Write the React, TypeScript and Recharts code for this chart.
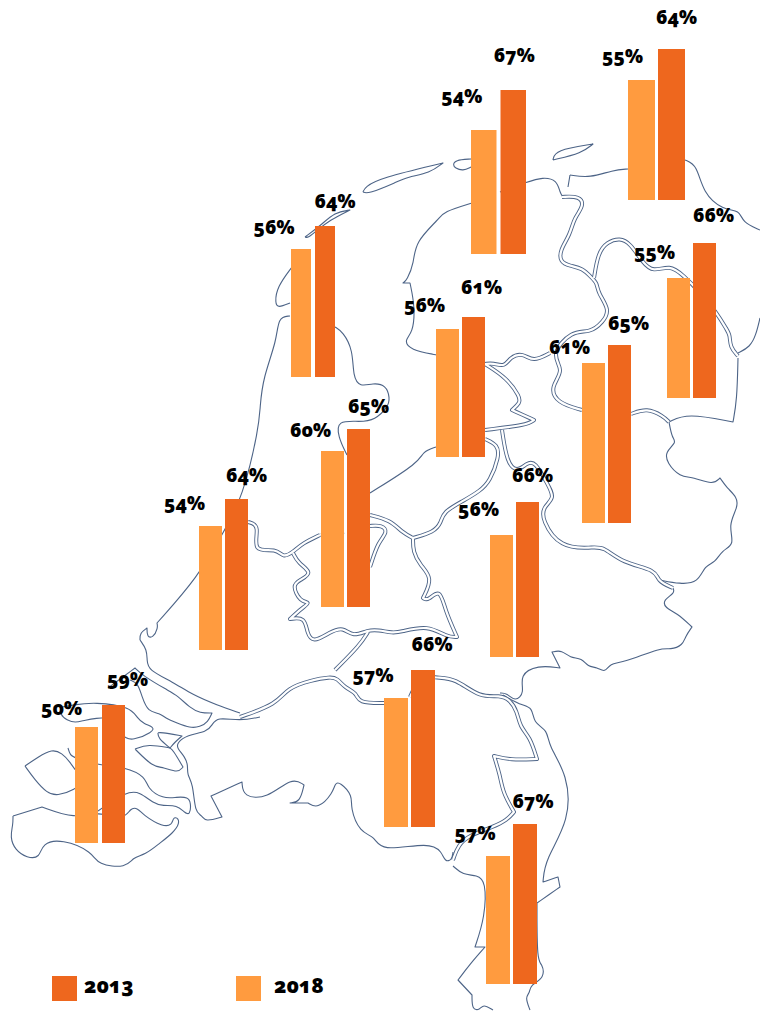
import React from "react";
import { BarChart, Bar, ScatterChart, Scatter, XAxis, YAxis, LabelList } from "recharts";

// ---- values ----
const regions = ["Groningen","Friesland","Drenthe","Overijssel","Flevoland","Noord-Holland","Utrecht","Zuid-Holland","Gelderland","Noord-Brabant","Zeeland","Limburg"];
const values2018 = [55,54,55,61,56,56,60,54,56,57,50,57];
const values2013 = [64,67,66,65,61,64,65,64,66,66,59,67];

// ---- layout of each small chart: left, bottom, bar width, gap, plot height of the 2013 bar, of the 2018 bar ----
const layout = [
  [628,200,27,3,151,120],
  [471,254,25.5,4,164,124],
  [667,398,23,3,155,120],
  [582,523,23,3,178,160],
  [436,457,23,3,140,128],
  [291,377,20,4,151,128],
  [321,607,23,3,178,156],
  [199,650,23,3,151,124],
  [490,657,23,3,155,122],
  [384,827,24,3,157,129],
  [75,843,23,4,138,116],
  [486,984,24,3,160,128],
];
// label centre offset relative to (bar centre, bar top)
const labelOffsets2018 = [[-19,-23],[-22,-33],[-24,-25],[-24,-15],[-23,-23],[-27,-21],[-22,-20],[-26,-22],[-23,-25],[-23,-22],[-25,-18],[-23,-22]];
const labelOffsets2013 = [[5,-31],[1,-34],[9,-27],[9,-21],[8,-29],[10,-24],[10,-22],[10,-23],[5,-26],[9,-25],[14,-25],[8,-22]];

// ---- map outline ----
const thin: number[][][] = [
  [[25,766],[38,757],[52,749],[62,753],[70,762],[75,770],[85,780],[75,790],[57,796],[47,793],[35,780],[25,766]],
  [[62,707],[60,715],[67,720],[75,723],[85,720],[98,718],[102,718]],
  [[62,707],[72,705],[95,702],[131,707],[137,718],[144,724],[154,727],[153,732],[132,741],[125,737]],
  [[68,748],[70,755],[75,758],[98,765],[125,767],[146,777],[147,788],[163,799],[177,797],[188,797],[191,803],[190,815],[185,813],[177,805],[163,806],[153,803],[140,792],[127,791],[98,811]],
  [[108,688],[135,668],[142,675],[167,690],[177,695],[190,708],[200,713],[212,713],[208,722],[200,727],[190,728],[177,723],[165,718],[160,713],[148,712],[142,697],[138,683],[130,680]],
  [[158,733],[160,732],[182,736],[175,742],[170,748],[158,738],[158,733]],
  [[135,749],[148,744],[170,748],[173,750],[183,767],[178,773],[163,767],[153,767],[135,749]],
  [[13,816],[42,807],[75,819],[98,811],[125,820],[130,808],[138,808],[143,815],[163,827],[172,825],[173,818],[177,817],[180,823],[173,833],[160,843],[145,855],[133,857],[127,868],[97,865],[93,852],[62,839],[42,843],[40,858],[27,858],[15,850],[10,837],[13,825],[13,816]],
  [[140,640],[147,650],[147,660],[148,670],[173,682],[193,695],[217,705],[240,713]],
  [[260,717],[240,721],[217,717],[212,725],[207,732],[187,735],[177,743],[177,748],[185,757],[188,765],[187,775],[193,783],[195,813],[202,815],[205,822],[222,817],[211,796],[242,782],[243,797],[267,799],[292,777],[304,785],[300,802],[290,803],[308,803],[318,809],[333,793],[335,783],[340,782],[353,796],[350,807],[360,833],[375,836],[380,852],[430,842],[442,852],[445,862],[452,860],[453,852]],
  [[453,866],[463,875],[477,875],[486,881],[485,917],[475,947],[485,947],[470,964],[458,980],[472,995],[472,1010],[480,1010],[483,1004],[493,1010]],
  [[503,695],[520,705],[533,707],[533,723],[548,730],[548,745],[568,775],[570,820],[545,860],[543,882],[558,877],[560,887],[537,903],[537,962],[542,963],[545,978],[530,985],[530,993],[525,997],[530,1010]],
  [[500,693],[507,693],[515,702],[525,693],[519,675],[538,665],[560,668],[552,652],[562,650],[570,658],[582,658],[588,667],[597,667],[605,673],[610,663],[623,663],[662,647],[670,650],[683,645],[685,637],[692,627],[677,613],[665,608],[663,600],[675,593],[673,588]],
  [[669,422],[687,413],[733,422],[737,400],[738,358]],
  [[669,422],[672,438],[677,442],[665,452],[667,463],[680,477],[693,477],[713,485],[720,478],[727,488],[737,497],[738,507],[728,525],[735,545],[722,550],[715,563],[705,565],[698,583],[680,584],[660,580]],
  [[685,160],[697,165],[703,193],[723,210],[740,210],[742,222],[760,230]],
  [[570,175],[590,178],[613,170],[628,169]],
  [[568,187],[570,175]],
  [[563,197],[560,193],[557,180],[543,177],[527,182],[500,192]],
  [[472,203],[443,212],[440,218],[415,242],[414,263],[407,280],[403,283],[410,283],[415,307],[413,333],[404,340],[410,350],[437,355]],
  [[738,353],[750,347],[756,335],[760,318]],
  [[305,237],[320,226],[335,212],[350,210],[330,220],[315,232],[308,238],[305,237]],
  [[363,192],[365,187],[380,178],[443,163],[430,173],[407,177],[397,182],[368,194],[363,192]],
  [[471,159],[455,160],[453,165],[455,168],[463,171],[471,167]],
  [[553,160],[555,150],[593,144],[582,153],[553,160]],
  [[292,267],[277,287],[275,303],[278,308],[290,303]],
  [[290,316],[278,317],[277,340],[263,378],[260,407],[259,427],[243,497],[223,533],[198,577],[157,623],[158,628],[153,638],[147,637],[147,628],[140,633],[140,640]],
  [[335,327],[343,332],[353,350],[353,377],[360,387],[373,383],[386,385],[390,398],[388,407],[375,420],[360,422],[337,420],[338,437],[347,455]],
  [[370,493],[420,462],[422,452],[436,447]],
];
const rivers: number[][][] = [
  [[240,717],[277,704],[287,688],[312,680],[330,677],[337,678],[345,688],[357,693],[358,703],[384,703]],
  [[410,697],[420,675],[437,678],[455,678],[480,698],[500,695],[510,700],[517,711],[520,727],[530,737],[537,759],[510,760],[494,756],[500,775],[503,793],[514,812],[507,820],[493,827],[470,835],[458,845],[453,860]],
  [[335,670],[360,645],[368,632]],
  [[562,197],[580,196],[584,206],[574,218],[570,235],[560,250],[560,262],[570,266],[582,268],[592,278],[597,283],[598,293],[610,310],[603,322],[590,333],[572,330],[550,355],[565,370],[550,387],[557,403],[582,410]],
  [[631,414],[647,408],[663,416],[669,422]],
  [[594,278],[598,253],[607,242],[620,238],[630,243],[643,263],[653,272],[670,265],[683,275],[700,292],[717,313],[727,330],[730,335],[730,347],[738,356]],
  [[550,353],[533,362],[523,353],[510,357],[505,367],[493,363],[485,364]],
  [[485,364],[507,378],[520,397],[520,403],[512,410],[534,420],[527,425],[485,430]],
  [[673,588],[657,581],[657,570],[622,563],[603,546],[592,548],[560,548],[542,520],[543,507],[555,498],[548,485],[535,461],[527,463],[517,472],[507,463],[502,430]],
  [[485,439],[498,445],[499,457],[490,481],[480,491],[463,501],[443,512],[441,523],[434,532],[413,538],[403,533],[390,520],[370,515]],
  [[413,538],[413,552],[420,565],[433,578],[423,598],[428,601],[440,588],[445,610],[457,637],[447,637],[428,625],[400,632],[393,633],[378,630],[368,630],[353,637],[343,627],[330,632],[313,643],[307,633],[305,617],[290,619],[302,608],[311,602],[300,602],[292,585],[300,580],[313,573],[298,563],[293,553]],
  [[248,522],[260,525],[252,553],[277,548],[283,558],[293,552],[303,543],[320,535]],
  [[370,526],[382,525],[388,532],[378,542],[370,567]],
  [[344,532],[321,535]],
];
// outline points that are sharp corners in the picture
const corners: number[][] = [
  [25,766],[211,796],[242,782],[222,817],[290,803],[308,803],[304,785],[475,947],[485,947],[543,882],[558,877],[560,887],[537,903],
  [552,652],[560,668],[537,759],[494,756],[514,812],[157,623],[403,283],[410,283],[443,163],[593,144],[553,160],[350,210],[305,237],
  [212,713],[135,749],[183,767],[512,410],[534,420],[692,627],[669,422],[720,478],[733,422],[457,637],[423,598],[290,619],[135,668],
  [13,816],[42,807],[158,733],[182,736],[170,748],[472,995],[458,980],[685,160],[568,187],[570,175],[413,538],[140,640],[147,628],
];

const ink = "#4d6487";
const c2013 = "#EE671E";
const c2018 = "#FF9B3F";
const font = "'Noto Sans', sans-serif";
const isCorner = (x: number, y: number) => corners.some(([a, b]) => a === x && b === y);
const pts = (a: number[][]) =>
  a.flatMap(([x, y]) => (isCorner(x, y) ? [{ x, y }, { x, y }, { x, y }] : [{ x, y }]));
const noDot = () => <g />;

function MapOutline() {
  const path = (key: string, p: number[][], stroke: string, w: number) => (
    <Scatter
      key={key}
      data={pts(p)}
      line={{ stroke, strokeWidth: w, strokeLinejoin: "round", fill: "none" } as any}
      lineType="joint"
      lineJointType="basis"
      shape={noDot}
      isAnimationActive={false}
    />
  );
  return (
    <ScatterChart width={760} height={1011} margin={{ top: 0, right: 0, bottom: 0, left: 0 }} style={{ position: "absolute", left: 0, top: 0 }}>
      <XAxis type="number" dataKey="x" domain={[0, 760]} hide />
      <YAxis type="number" dataKey="y" domain={[0, 1011]} reversed hide />
      {thin.map((p, i) => path("t" + i, p, ink, 1.1))}
      {rivers.map((p, i) => path("ro" + i, p, ink, 4))}
      {rivers.map((p, i) => path("ri" + i, p, "#fff", 2.2))}
    </ScatterChart>
  );
}

const PAD_X = 50;
const PAD_TOP = 50;

function labelRenderer(off: number[]) {
  return (props: any) => {
    const { x, y, width, value } = props;
    return (
      <text x={x + width / 2 + off[0]} y={y + off[1] + 6} textAnchor="middle" fontFamily={font} fontWeight={900} fontSize={19} fill="#000" style={{ fontFeatureSettings: '"onum"', fontVariantNumeric: "oldstyle-nums" }}>
        {value}%
      </text>
    );
  };
}

function Region({ i }: { i: number }) {
  const [left, bottom, w, gap, h13, h18] = layout[i];
  const v18 = values2018[i];
  const v13 = values2013[i];
  const floor = v13 - ((v13 - v18) * h13) / (h13 - h18);
  const W = 2 * w + gap;
  return (
    <BarChart
      width={W + 2 * PAD_X}
      height={h13 + PAD_TOP}
      data={[{ region: regions[i], y2018: v18, y2013: v13 }]}
      margin={{ top: PAD_TOP, right: PAD_X - 1, bottom: 0, left: PAD_X - 1 }}
      barGap={gap}
      barCategoryGap={0}
      style={{ position: "absolute", left: left - PAD_X, top: bottom - h13 - PAD_TOP }}
    >
      <XAxis dataKey="region" hide />
      <YAxis type="number" domain={[floor, v13]} allowDataOverflow hide />
      <Bar dataKey="y2018" fill={c2018} barSize={w} isAnimationActive={false}>
        <LabelList dataKey="y2018" content={labelRenderer(labelOffsets2018[i])} />
      </Bar>
      <Bar dataKey="y2013" fill={c2013} barSize={w} isAnimationActive={false}>
        <LabelList dataKey="y2013" content={labelRenderer(labelOffsets2013[i])} />
      </Bar>
    </BarChart>
  );
}

const legend = [
  { name: "2013", color: c2013, box: 52, text: 84 },
  { name: "2018", color: c2018, box: 236, text: 274 },
];

export default function App() {
  return (
    <div style={{ position: "absolute", left: 0, top: 0, width: 760, height: 1011, background: "#fff", overflow: "hidden" }}>
      <MapOutline />
      {regions.map((_, i) => (
        <Region key={i} i={i} />
      ))}
      {legend.map((l) => (
        <React.Fragment key={l.name}>
          <div style={{ position: "absolute", left: l.box, top: 976, width: 25, height: 25, background: l.color }} />
          <div style={{ position: "absolute", left: l.text, top: 970, fontFamily: font, fontWeight: 900, fontSize: 20.5, lineHeight: "30px", color: "#000", fontFeatureSettings: '"onum"' }}>{l.name}</div>
        </React.Fragment>
      ))}
    </div>
  );
}
